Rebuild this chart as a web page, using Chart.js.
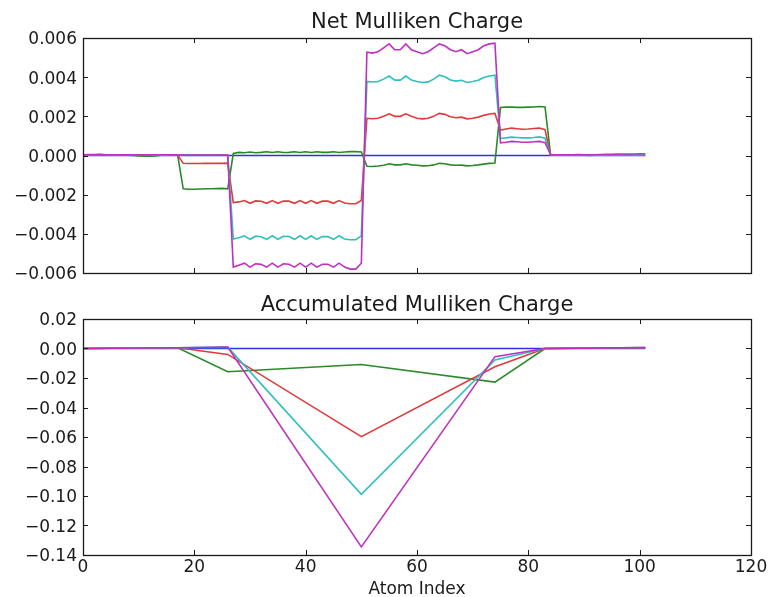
<!DOCTYPE html>
<html>
<head>
<meta charset="utf-8">
<script src="https://cdn.jsdelivr.net/npm/chart.js@4.4.1/dist/chart.umd.min.js"></script>
<style>
  html, body { margin: 0; padding: 0; background: #fff; overflow: hidden; }
  #wrap { position: relative; width: 768px; height: 597px; }
  #top { position: absolute; left: 0; top: 0; }
  #bottom { position: absolute; left: 0; top: 290px; }
</style>
</head>
<body>
<div id="wrap">
  <canvas id="top" width="768" height="290"></canvas>
  <canvas id="bottom" width="768" height="310"></canvas>
</div>
<script>
// Net Mulliken charge per atom (atom index = position in the array, 0..101)
const netBlue = [
  0,0,0,0,0,0,0,0,0,0,0,0,0,0,0,0,0,0,
  0,0,0,0,0,0,0,0,0,
  0,0,0,0,0,0,0,0,0,0,0,0,0,0,0,0,0,0,0,0,0,0,0,0,
  0,0,0,0,0,0,0,0,0,0,0,0,0,0,0,0,0,0,0,0,0,0,0,0,
  0,0,0,0,0,0,0,0,0,
  0,0,0,0,0,0,0,0,0,0,0,0,0,0,0,0,0,0
];
const netGreen = [
  0.00003,0.00004,0.00004,0.00005,0.00004,0.00003,0.00002,0.00002,0.00001,0.00000,-0.00002,-0.00004,-0.00004,-0.00002,0.00001,0.00002,0.00003,0.00002,
  -0.00170,-0.00172,-0.00172,-0.00171,-0.00170,-0.00170,-0.00169,-0.00168,-0.00170,
  0.00010,0.00016,0.00014,0.00018,0.00014,0.00016,0.00019,0.00015,0.00019,0.00015,0.00016,0.00019,0.00015,0.00019,0.00015,0.00019,0.00016,0.00016,0.00019,0.00015,0.00018,0.00020,0.00020,0.00018,
  -0.00055,-0.00056,-0.00054,-0.00050,-0.00042,-0.00048,-0.00048,-0.00042,-0.00048,-0.00050,-0.00053,-0.00052,-0.00048,-0.00040,-0.00042,-0.00048,-0.00050,-0.00049,-0.00053,-0.00051,-0.00048,-0.00044,-0.00040,-0.00038,
  0.00245,0.00247,0.00247,0.00246,0.00246,0.00247,0.00248,0.00250,0.00248,
  0.00003,0.00002,0.00001,0.00002,0.00004,0.00003,0.00001,0.00000,0.00002,0.00004,0.00003,0.00002,0.00003,0.00004,0.00003,0.00002,0.00003,0.00004
];
const netRed = [
  0.00003,0.00004,0.00004,0.00005,0.00004,0.00004,0.00003,0.00003,0.00002,0.00002,0.00001,0.00001,0.00002,0.00002,0.00003,0.00003,0.00003,0.00002,
  -0.00040,-0.00041,-0.00041,-0.00041,-0.00040,-0.00040,-0.00040,-0.00040,-0.00039,
  -0.00240,-0.00237,-0.00230,-0.00244,-0.00232,-0.00234,-0.00244,-0.00230,-0.00244,-0.00232,-0.00233,-0.00244,-0.00230,-0.00244,-0.00230,-0.00244,-0.00233,-0.00233,-0.00244,-0.00230,-0.00243,-0.00246,-0.00246,-0.00230,
  0.00190,0.00188,0.00190,0.00200,0.00213,0.00200,0.00200,0.00213,0.00200,0.00190,0.00187,0.00190,0.00200,0.00215,0.00210,0.00198,0.00193,0.00196,0.00187,0.00190,0.00196,0.00205,0.00212,0.00215,
  0.00130,0.00135,0.00140,0.00137,0.00134,0.00135,0.00138,0.00140,0.00132,
  0.00002,0.00002,0.00003,0.00002,0.00002,0.00003,0.00003,0.00002,0.00002,0.00003,0.00003,0.00002,0.00002,0.00003,0.00003,0.00002,0.00002,0.00003
];
const netCyan = [
  0.00003,0.00004,0.00004,0.00004,0.00004,0.00004,0.00003,0.00003,0.00003,0.00003,0.00002,0.00002,0.00002,0.00003,0.00003,0.00003,0.00003,0.00003,
  0.00002,0.00002,0.00002,0.00002,0.00002,0.00002,0.00002,0.00002,0.00002,
  -0.00426,-0.00420,-0.00410,-0.00428,-0.00412,-0.00415,-0.00428,-0.00410,-0.00428,-0.00413,-0.00414,-0.00428,-0.00410,-0.00428,-0.00410,-0.00428,-0.00414,-0.00414,-0.00428,-0.00410,-0.00426,-0.00430,-0.00430,-0.00410,
  0.00378,0.00375,0.00378,0.00390,0.00406,0.00385,0.00385,0.00406,0.00385,0.00378,0.00373,0.00376,0.00390,0.00410,0.00402,0.00386,0.00380,0.00384,0.00373,0.00378,0.00384,0.00398,0.00406,0.00410,
  0.00087,0.00090,0.00094,0.00092,0.00090,0.00090,0.00092,0.00095,0.00088,
  0.00003,0.00003,0.00002,0.00003,0.00003,0.00004,0.00003,0.00003,0.00002,0.00003,0.00004,0.00003,0.00003,0.00004,0.00004,0.00003,0.00004,0.00004
];
const netMagenta = [
  0.00004,0.00005,0.00005,0.00005,0.00004,0.00004,0.00004,0.00003,0.00003,0.00003,0.00003,0.00003,0.00003,0.00004,0.00004,0.00004,0.00003,0.00003,
  0.00002,0.00002,0.00002,0.00002,0.00002,0.00002,0.00002,0.00002,0.00002,
  -0.00570,-0.00560,-0.00550,-0.00570,-0.00553,-0.00556,-0.00570,-0.00550,-0.00570,-0.00553,-0.00555,-0.00570,-0.00550,-0.00570,-0.00550,-0.00570,-0.00555,-0.00555,-0.00570,-0.00550,-0.00570,-0.00580,-0.00580,-0.00550,
  0.00528,0.00523,0.00530,0.00550,0.00570,0.00540,0.00540,0.00570,0.00540,0.00530,0.00520,0.00530,0.00550,0.00570,0.00560,0.00540,0.00530,0.00540,0.00520,0.00530,0.00540,0.00560,0.00570,0.00574,
  0.00065,0.00068,0.00072,0.00070,0.00068,0.00068,0.00070,0.00072,0.00066,
  0.00004,0.00004,0.00003,0.00004,0.00004,0.00005,0.00004,0.00004,0.00004,0.00005,0.00006,0.00006,0.00007,0.00008,0.00008,0.00008,0.00009,0.00009
];

// Accumulated charge, read at the fragment boundaries
const accIdx     = [0, 17, 26, 50, 74, 83, 101];
const accBlue    = [0, 0, 0, 0, 0, 0, 0];
const accGreen   = [0, 0.0005, -0.0158, -0.0108, -0.0228, 0, 0.0006];
const accRed     = [0, 0.0005, -0.0040, -0.0598, -0.0124, 0, 0.0005];
const accCyan    = [0, 0.0005, 0.0009, -0.0988, -0.0078, 0, 0.0005];
const accMagenta = [0, 0.0005, 0.0010, -0.1345, -0.0055, 0, 0.0006];

const xTicksMin = 0, xTicksMax = 120, xStep = 20;
const netRange = [-0.006, 0.006, 0.002];
const accRange = [-0.14, 0.02, 0.02];

const FONT = 'DejaVu Sans';
const INK = '#1a1a1a';
const colors = { b: '#2f2ff0', g: '#2a8a2a', r: '#e03a3a', c: '#30bfbf', m: '#bf30bf' };

const byIndex = arr => arr.map((v, i) => ({ x: i, y: v }));
const withIdx = (xs, ys) => ys.map((v, i) => ({ x: xs[i], y: v }));

function lineSet(data, color, order) {
  return { data, borderColor: color, borderWidth: 1.6, pointRadius: 0, tension: 0, fill: false, order };
}

function fmt(dec) {
  return v => (Math.abs(v) < 1e-9 ? 0 : v).toFixed(dec).replace('-', '\u2212');
}

// matplotlib-like box with inward ticks on all four sides
const framePlugin = {
  id: 'frame',
  afterDatasetsDraw(chart) {
    const { ctx, chartArea: a, scales } = chart;
    ctx.save();
    ctx.strokeStyle = INK;
    ctx.lineWidth = 1;
    ctx.beginPath();
    scales.x.ticks.forEach(t => {
      const px = Math.round(scales.x.getPixelForValue(t.value)) + 0.5;
      ctx.moveTo(px, a.bottom); ctx.lineTo(px, a.bottom - 5);
      ctx.moveTo(px, a.top); ctx.lineTo(px, a.top + 5);
    });
    scales.y.ticks.forEach(t => {
      const py = Math.round(scales.y.getPixelForValue(t.value)) + 0.5;
      ctx.moveTo(a.left, py); ctx.lineTo(a.left + 5, py);
      ctx.moveTo(a.right, py); ctx.lineTo(a.right - 5, py);
    });
    ctx.stroke();
    ctx.lineWidth = 1.3;
    ctx.strokeRect(Math.round(a.left) + 0.5, Math.round(a.top) + 0.5,
                   Math.round(a.right - a.left), Math.round(a.bottom - a.top));
    ctx.restore();
  }
};

function makeChart(el, cfg) {
  return new Chart(el, {
    type: 'line',
    data: {
      datasets: [
        lineSet(cfg.b, colors.b, 5),
        lineSet(cfg.g, colors.g, 4),
        lineSet(cfg.r, colors.r, 3),
        lineSet(cfg.c, colors.c, 2),
        lineSet(cfg.m, colors.m, 1)
      ]
    },
    options: {
      responsive: false,
      animation: false,
      events: [],
      layout: { padding: { left: 0, right: 17, top: 0, bottom: 0 } },
      plugins: {
        legend: { display: false },
        tooltip: { enabled: false },
        title: { display: false }
      },
      scales: {
        // empty top axis carries the subplot title, centred over the axes box
        xTop: {
          type: 'linear', position: 'top', min: xTicksMin, max: xTicksMax,
          grid: { display: false, drawTicks: false }, border: { display: false },
          ticks: { display: false },
          title: { display: true, text: cfg.title, color: INK,
                   font: { family: FONT, size: 21 }, padding: { top: cfg.titleTop, bottom: 0 } },
          afterFit: s => { s.height = cfg.topHeight; s.paddingLeft = 0; s.paddingRight = 0; }
        },
        x: {
          type: 'linear', position: 'bottom', min: xTicksMin, max: xTicksMax,
          grid: { display: false, drawTicks: false }, border: { display: false },
          ticks: { display: cfg.xLabels, stepSize: xStep, color: INK, padding: 2.4,
                   maxRotation: 0, font: { family: FONT, size: 17 } },
          title: { display: cfg.xLabels, text: 'Atom Index', color: INK, padding: 0,
                   font: { family: FONT, size: 17 } },
          afterFit: s => { s.height = cfg.xHeight; s.paddingLeft = 0; s.paddingRight = 0; }
        },
        y: {
          type: 'linear', min: cfg.range[0], max: cfg.range[1],
          grid: { display: false, drawTicks: false }, border: { display: false },
          ticks: { stepSize: cfg.range[2], color: INK, padding: 6, labelOffset: 2,
                   font: { family: FONT, size: 17 }, callback: fmt(cfg.dec) },
          afterFit: s => { s.width = 83; }
        }
      }
    },
    plugins: [framePlugin]
  });
}

makeChart(document.getElementById('top'), {
  title: 'Net Mulliken Charge', titleTop: 10.4, topHeight: 38,
  b: byIndex(netBlue), g: byIndex(netGreen), r: byIndex(netRed),
  c: byIndex(netCyan), m: byIndex(netMagenta),
  range: netRange, dec: 3, xLabels: false, xHeight: 17
});

makeChart(document.getElementById('bottom'), {
  title: 'Accumulated Mulliken Charge', titleTop: 3.4, topHeight: 29,
  b: withIdx(accIdx, accBlue), g: withIdx(accIdx, accGreen), r: withIdx(accIdx, accRed),
  c: withIdx(accIdx, accCyan), m: withIdx(accIdx, accMagenta),
  range: accRange, dec: 2, xLabels: true, xHeight: 45
});
</script>
</body>
</html>
